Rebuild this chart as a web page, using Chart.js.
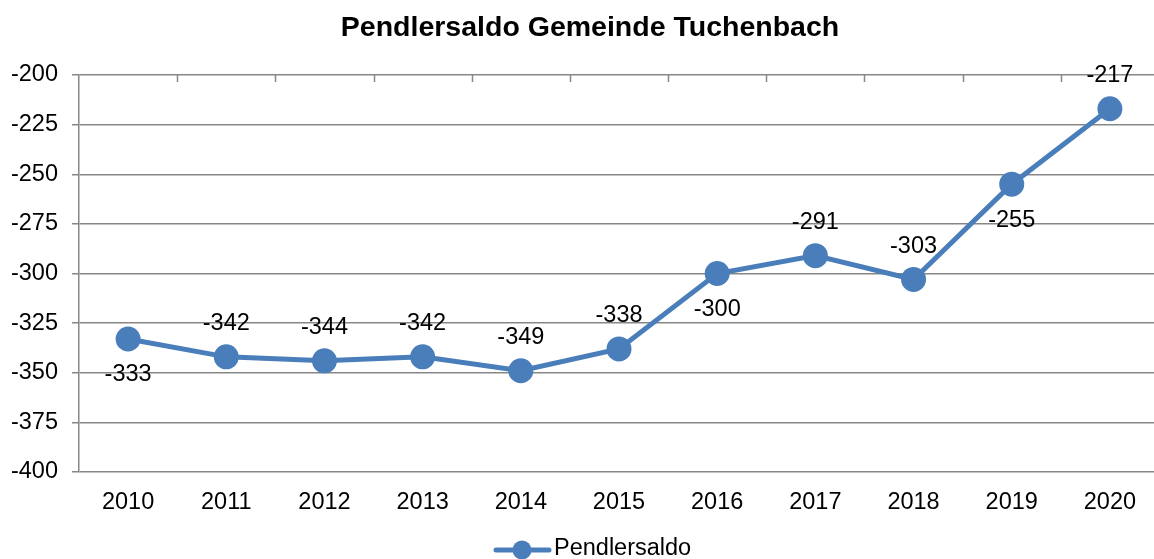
<!DOCTYPE html>
<html><head><meta charset="utf-8">
<script src="https://cdn.jsdelivr.net/npm/chart.js@4.4.1/dist/chart.umd.min.js"></script>
<style>html,body{margin:0;padding:0;background:#fff;overflow:hidden}#wrap{width:1154px;height:559px;overflow:hidden}</style>
</head><body><div id="wrap"><canvas id="c" width="1159" height="559"></canvas></div>
<script>
const chartTitle = 'Pendlersaldo Gemeinde Tuchenbach';
const seriesName = 'Pendlersaldo';
const years = ['2010','2011','2012','2013','2014','2015','2016','2017','2018','2019','2020'];
const pendlersaldo = [-333,-342,-344,-342,-349,-338,-300,-291,-303,-255,-217];
const labelPlacement = ['below','above','above','above','above','above','below','above','above','below','above'];
const yMin = -400, yMax = -200, yStep = 25;

const FONT = '"Liberation Sans", Arial, sans-serif';
const BLUE = '#4A7EBB';
const GRID = '#878787';
const FS = 23.5;

const decor = {
  id: 'decor',
  afterDraw(chart) {
    const ctx = chart.ctx, area = chart.chartArea;
    ctx.save();
    // category boundary ticks on top axis line
    ctx.strokeStyle = GRID; ctx.lineWidth = 1.5;
    const n = years.length, step = (area.right - area.left) / n;
    for (let i = 1; i < n; i++) {
      const x = Math.round(area.left + i * step) + 0.5;
      ctx.beginPath(); ctx.moveTo(x, area.top); ctx.lineTo(x, area.top + 7); ctx.stroke();
    }
    // data labels
    const meta = chart.getDatasetMeta(0);
    ctx.fillStyle = '#000'; ctx.font = FS + 'px ' + FONT;
    ctx.textAlign = 'center'; ctx.textBaseline = 'middle';
    meta.data.forEach((p, i) => {
      const dy = labelPlacement[i] === 'above' ? -33 : 36;
      ctx.fillText(String(pendlersaldo[i]), p.x, p.y + dy);
    });
    // title
    ctx.font = 'bold 28.5px ' + FONT;
    ctx.fillText(chartTitle, 590, 28);
    // legend
    const ly = 550;
    ctx.strokeStyle = BLUE; ctx.lineWidth = 5; ctx.lineCap = 'round';
    ctx.beginPath(); ctx.moveTo(496, ly); ctx.lineTo(549, ly); ctx.stroke();
    ctx.fillStyle = BLUE; ctx.beginPath(); ctx.arc(522, ly, 9.5, 0, Math.PI * 2); ctx.fill();
    ctx.fillStyle = '#000'; ctx.textAlign = 'left'; ctx.font = FS + 'px ' + FONT;
    ctx.fillText(seriesName, 554, ly - 1);
    ctx.restore();
  }
};

new Chart(document.getElementById('c'), {
  type: 'line',
  data: {
    labels: years,
    datasets: [{
      label: seriesName,
      data: pendlersaldo,
      borderColor: BLUE,
      backgroundColor: BLUE,
      pointBackgroundColor: BLUE,
      pointBorderColor: BLUE,
      borderWidth: 5,
      pointRadius: 10,
      pointHoverRadius: 10,
      tension: 0,
      clip: false
    }]
  },
  options: {
    responsive: false,
    animation: false,
    devicePixelRatio: 1,
    layout: { autoPadding: false, padding: { left: 0, right: 0, top: 75, bottom: 37 } },
    plugins: { legend: { display: false }, title: { display: false }, tooltip: { enabled: false } },
    scales: {
      x: {
        offset: true,
        grid: { display: false },
        border: { display: false },
        ticks: { color: '#000', font: { family: FONT, size: FS }, padding: 8, maxRotation: 0 },
        afterFit(s) { s.height = 50; s.paddingLeft = 0; s.paddingRight = 0; }
      },
      y: {
        min: yMin, max: yMax,
        ticks: { stepSize: yStep, color: '#000', font: { family: FONT, size: FS }, padding: 14 },
        grid: { color: GRID, lineWidth: 1.5, tickLength: 7 },
        border: { display: true, color: GRID, width: 1.5 },
        afterFit(s) { s.width = 79; s.paddingTop = 0; s.paddingBottom = 0; }
      }
    }
  },
  plugins: [decor]
});
</script></body></html>
